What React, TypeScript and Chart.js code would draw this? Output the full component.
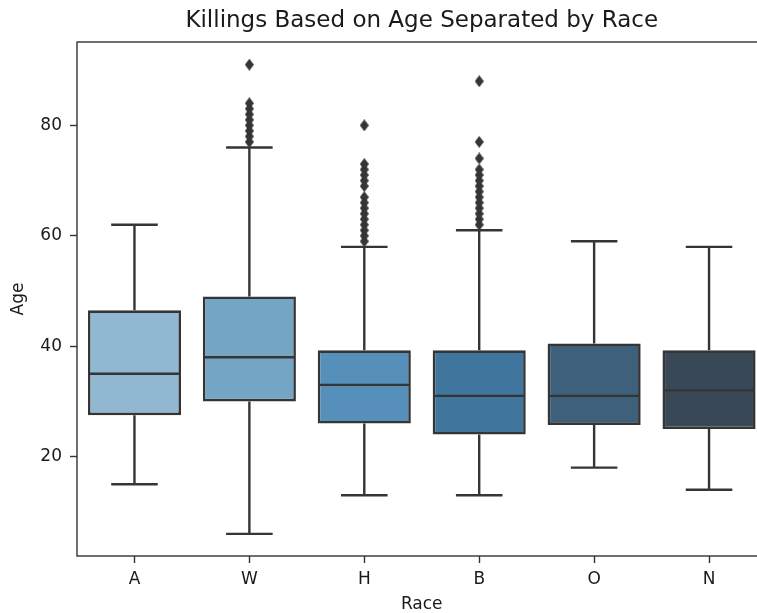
import { useEffect, useRef } from "react";
import { Chart, registerables } from "chart.js";

Chart.register(...registerables);

// Race categories and box statistics (age)
const races = ["A", "W", "H", "B", "O", "N"];
const lowerWhisker = [15, 6, 13, 13, 18, 14];
const q1 = [27.5, 30, 26, 24, 25.75, 25];
const medians = [35, 38, 33, 31, 31, 32];
const q3 = [46.5, 49, 39.25, 39.25, 40.5, 39.25];
const upperWhisker = [62, 76, 58, 61, 59, 58];

// Outlying ages per race
const wOutliers = [77, 78, 79, 80, 81, 82, 83, 84, 91];
const hOutliers = [59, 60, 61, 62, 63, 64, 65, 66, 67, 69, 70, 71, 72, 73, 80];
const bOutliers = [62, 63, 64, 65, 66, 67, 68, 69, 70, 71, 72, 74, 77, 88];

const boxColors = ["#91b8d1", "#74a5c5", "#568fba", "#40769e", "#3e607a", "#394857"];
const yTicks = [20, 40, 60, 80];

const EDGE = "#353535";
const SPINE = "#333";
const TEXT = "#1a1a1a";
const FONT = "'DejaVu Sans', sans-serif";

export default function App() {
  const ref = useRef<HTMLCanvasElement>(null);

  useEffect(() => {
    const canvas = ref.current;
    if (!canvas) return;

    // thin diamond marker for outliers
    const marker = document.createElement("canvas");
    marker.width = 9;
    marker.height = 12;
    const m = marker.getContext("2d")!;
    m.fillStyle = EDGE;
    m.beginPath();
    m.moveTo(4.5, 0);
    m.lineTo(9, 6);
    m.lineTo(4.5, 12);
    m.lineTo(0, 6);
    m.closePath();
    m.fill();

    const outlierPoints = [
      ...wOutliers.map((v) => ({ x: "W", y: v })),
      ...hOutliers.map((v) => ({ x: "H", y: v })),
      ...bOutliers.map((v) => ({ x: "B", y: v })),
    ];

    const boxParts = {
      id: "boxParts",
      afterDatasetsDraw(chart: any) {
        const { ctx, chartArea, scales } = chart;
        const x = scales.x;
        const y = scales.y;
        const meta = chart.getDatasetMeta(0);
        ctx.save();
        ctx.strokeStyle = EDGE;
        ctx.lineWidth = 2.4;
        races.forEach((_, i) => {
          const bar = meta.data[i];
          const cx = x.getPixelForValue(i);
          const half = bar.width / 2 - 1;
          const capHalf = bar.width / 4;
          ctx.beginPath();
          // median
          ctx.moveTo(cx - half, y.getPixelForValue(medians[i]));
          ctx.lineTo(cx + half, y.getPixelForValue(medians[i]));
          // whiskers
          ctx.moveTo(cx, y.getPixelForValue(q3[i]));
          ctx.lineTo(cx, y.getPixelForValue(upperWhisker[i]));
          ctx.moveTo(cx, y.getPixelForValue(q1[i]));
          ctx.lineTo(cx, y.getPixelForValue(lowerWhisker[i]));
          // caps
          ctx.moveTo(cx - capHalf, y.getPixelForValue(upperWhisker[i]));
          ctx.lineTo(cx + capHalf, y.getPixelForValue(upperWhisker[i]));
          ctx.moveTo(cx - capHalf, y.getPixelForValue(lowerWhisker[i]));
          ctx.lineTo(cx + capHalf, y.getPixelForValue(lowerWhisker[i]));
          ctx.stroke();
        });
        // axes frame
        ctx.strokeStyle = SPINE;
        ctx.lineWidth = 1.4;
        ctx.strokeRect(chartArea.left, chartArea.top, chartArea.right - chartArea.left, chartArea.bottom - chartArea.top);
        ctx.restore();
      },
    };

    const chart = new Chart(canvas, {
      type: "bar",
      data: {
        labels: races,
        datasets: [
          {
            type: "bar",
            data: races.map((_, i) => [q1[i], q3[i]]) as any,
            backgroundColor: boxColors,
            borderColor: EDGE,
            borderWidth: 2.6,
            borderSkipped: false,
            barPercentage: 0.81,
            categoryPercentage: 1.0,
          },
          {
            type: "scatter",
            data: outlierPoints as any,
            pointStyle: marker as any,
            pointRadius: 5,
            backgroundColor: EDGE,
            borderColor: EDGE,
          },
        ],
      },
      options: {
        responsive: false,
        animation: false,
        devicePixelRatio: 1,
        layout: { padding: { left: 0, right: 23.5, top: 0, bottom: 0 } },
        plugins: {
          legend: { display: false },
          tooltip: { enabled: false },
          title: {
            display: true,
            text: "Killings Based on Age Separated by Race",
            fullSize: false,
            color: TEXT,
            font: { family: FONT, size: 23, weight: "normal", lineHeight: 1.2 },
            padding: { top: 7.2, bottom: 7.2 },
          },
        },
        scales: {
          x: {
            type: "category",
            offset: true,
            afterFit(scale: any) {
              scale.height = 57;
            },
            grid: {
              display: true,
              drawOnChartArea: false,
              drawTicks: true,
              offset: false,
              tickLength: 7,
              tickColor: SPINE,
              tickWidth: 1.4,
            },
            border: { display: false },
            ticks: {
              color: TEXT,
              padding: 6,
              font: { family: FONT, size: 17, lineHeight: 1.2 },
              maxRotation: 0,
            },
            title: {
              display: true,
              text: "Race",
              color: TEXT,
              font: { family: FONT, size: 17, lineHeight: 1 },
              padding: { top: 0, bottom: 0 },
            },
          },
          y: {
            type: "linear",
            min: 2,
            max: 95.1,
            afterFit(scale: any) {
              scale.width = 77;
            },
            afterBuildTicks(scale: any) {
              scale.ticks = yTicks.map((v) => ({ value: v }));
            },
            grid: {
              display: true,
              drawOnChartArea: false,
              drawTicks: true,
              tickLength: 7,
              tickColor: SPINE,
              tickWidth: 1.4,
            },
            border: { display: false },
            ticks: {
              color: TEXT,
              padding: 8,
              font: { family: FONT, size: 17, lineHeight: 1.2 },
            },
            title: {
              display: true,
              text: "Age",
              color: TEXT,
              font: { family: FONT, size: 17, lineHeight: 1.2 },
              padding: { top: 8, bottom: 0 },
            },
          },
        },
      },
      plugins: [boxParts],
    });

    return () => chart.destroy();
  }, []);

  return (
    <div
      style={{
        position: "fixed",
        left: 0,
        top: 0,
        width: 757,
        height: 613,
        overflow: "hidden",
        background: "#fff",
      }}
    >
      <canvas ref={ref} width={790} height={613} style={{ display: "block", width: 790, height: 613 }} />
    </div>
  );
}
